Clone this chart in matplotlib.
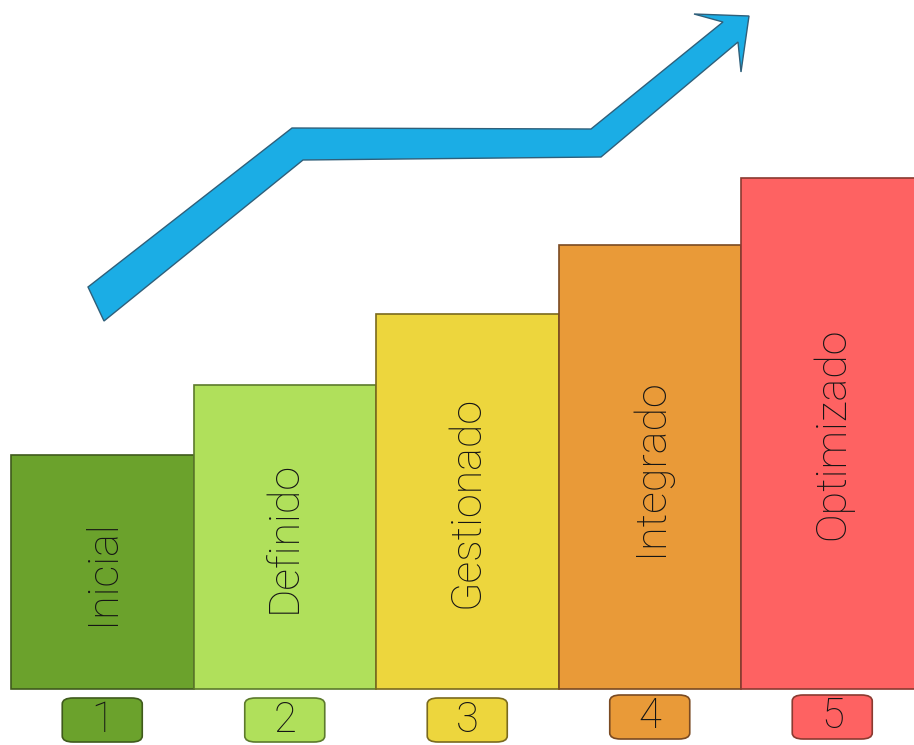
import matplotlib
matplotlib.use("Agg")
import matplotlib.pyplot as plt
from matplotlib.patches import FancyBboxPatch, Polygon

# ---- data ----
levels = ["Inicial", "Definido", "Gestionado", "Integrado", "Optimizado"]
numbers = ["1", "2", "3", "4", "5"]
heights = [2.34, 3.04, 3.75, 4.44, 5.11]
colors = ["#6BA22C", "#B0E05B", "#EDD63D", "#E99A38", "#FE6262"]
edges = ["#3F5A1C", "#5C7A2C", "#7A6A1E", "#7A4A22", "#8A3A30"]

# decorative arrow outline (figure pixels, y downwards)
arrow_x = [88, 292, 591, 723, 694, 749, 741, 738, 601, 303, 104]
arrow_y = [287, 128, 129, 22, 14, 16, 72, 42, 157, 160, 321]

W, H = 914, 745
fig = plt.figure(figsize=(W / 100, H / 100), dpi=100)

ax = fig.add_axes([0, 0, 1, 1])
bar_px = 182.5
left_px = 11
x0 = -0.5 - left_px / bar_px
x1 = -0.5 + (W - left_px) / bar_px
base_px_from_bottom = H - 689
ax.set_xlim(x0, x1)
ax.set_ylim(-base_px_from_bottom / 100, (H - base_px_from_bottom) / 100)
ax.axis("off")

xs = list(range(len(levels)))
ax.bar(xs, heights, width=1.0, color=colors, edgecolor=edges, linewidth=1.2, zorder=2)

font = dict(family=["Roboto", "DejaVu Sans"], fontweight="light")
for x, h, lab in zip(xs, heights, levels):
    ax.text(x, h / 2, lab, rotation=90, ha="center", va="center",
            fontsize=31, color="#151515", zorder=3, **font)

bw, bh = 80 / bar_px, 0.44
for x, n, c, e in zip(xs, numbers, colors, edges):
    yc = -0.31 if x < 3 else -0.28
    p = FancyBboxPatch((x - bw / 2, yc - bh / 2), bw, bh,
                       boxstyle="round,pad=0,rounding_size=0.06",
                       facecolor=c, edgecolor=e, linewidth=1.2,
                       zorder=2, clip_on=False)
    ax.add_patch(p)
    ax.text(x, yc, n, ha="center", va="center", fontsize=30,
            color="#151515", zorder=3, **font)

deco = fig.add_axes([0, 0, 1, 1])
deco.set_xlim(0, W)
deco.set_ylim(H, 0)
deco.axis("off")
deco.patch.set_alpha(0)
deco.add_patch(Polygon(list(zip(arrow_x, arrow_y)), closed=True,
                       facecolor="#1BADE5", edgecolor="#2F5F7A", linewidth=1.0))

fig.savefig("out.png", dpi=100, facecolor="white")
